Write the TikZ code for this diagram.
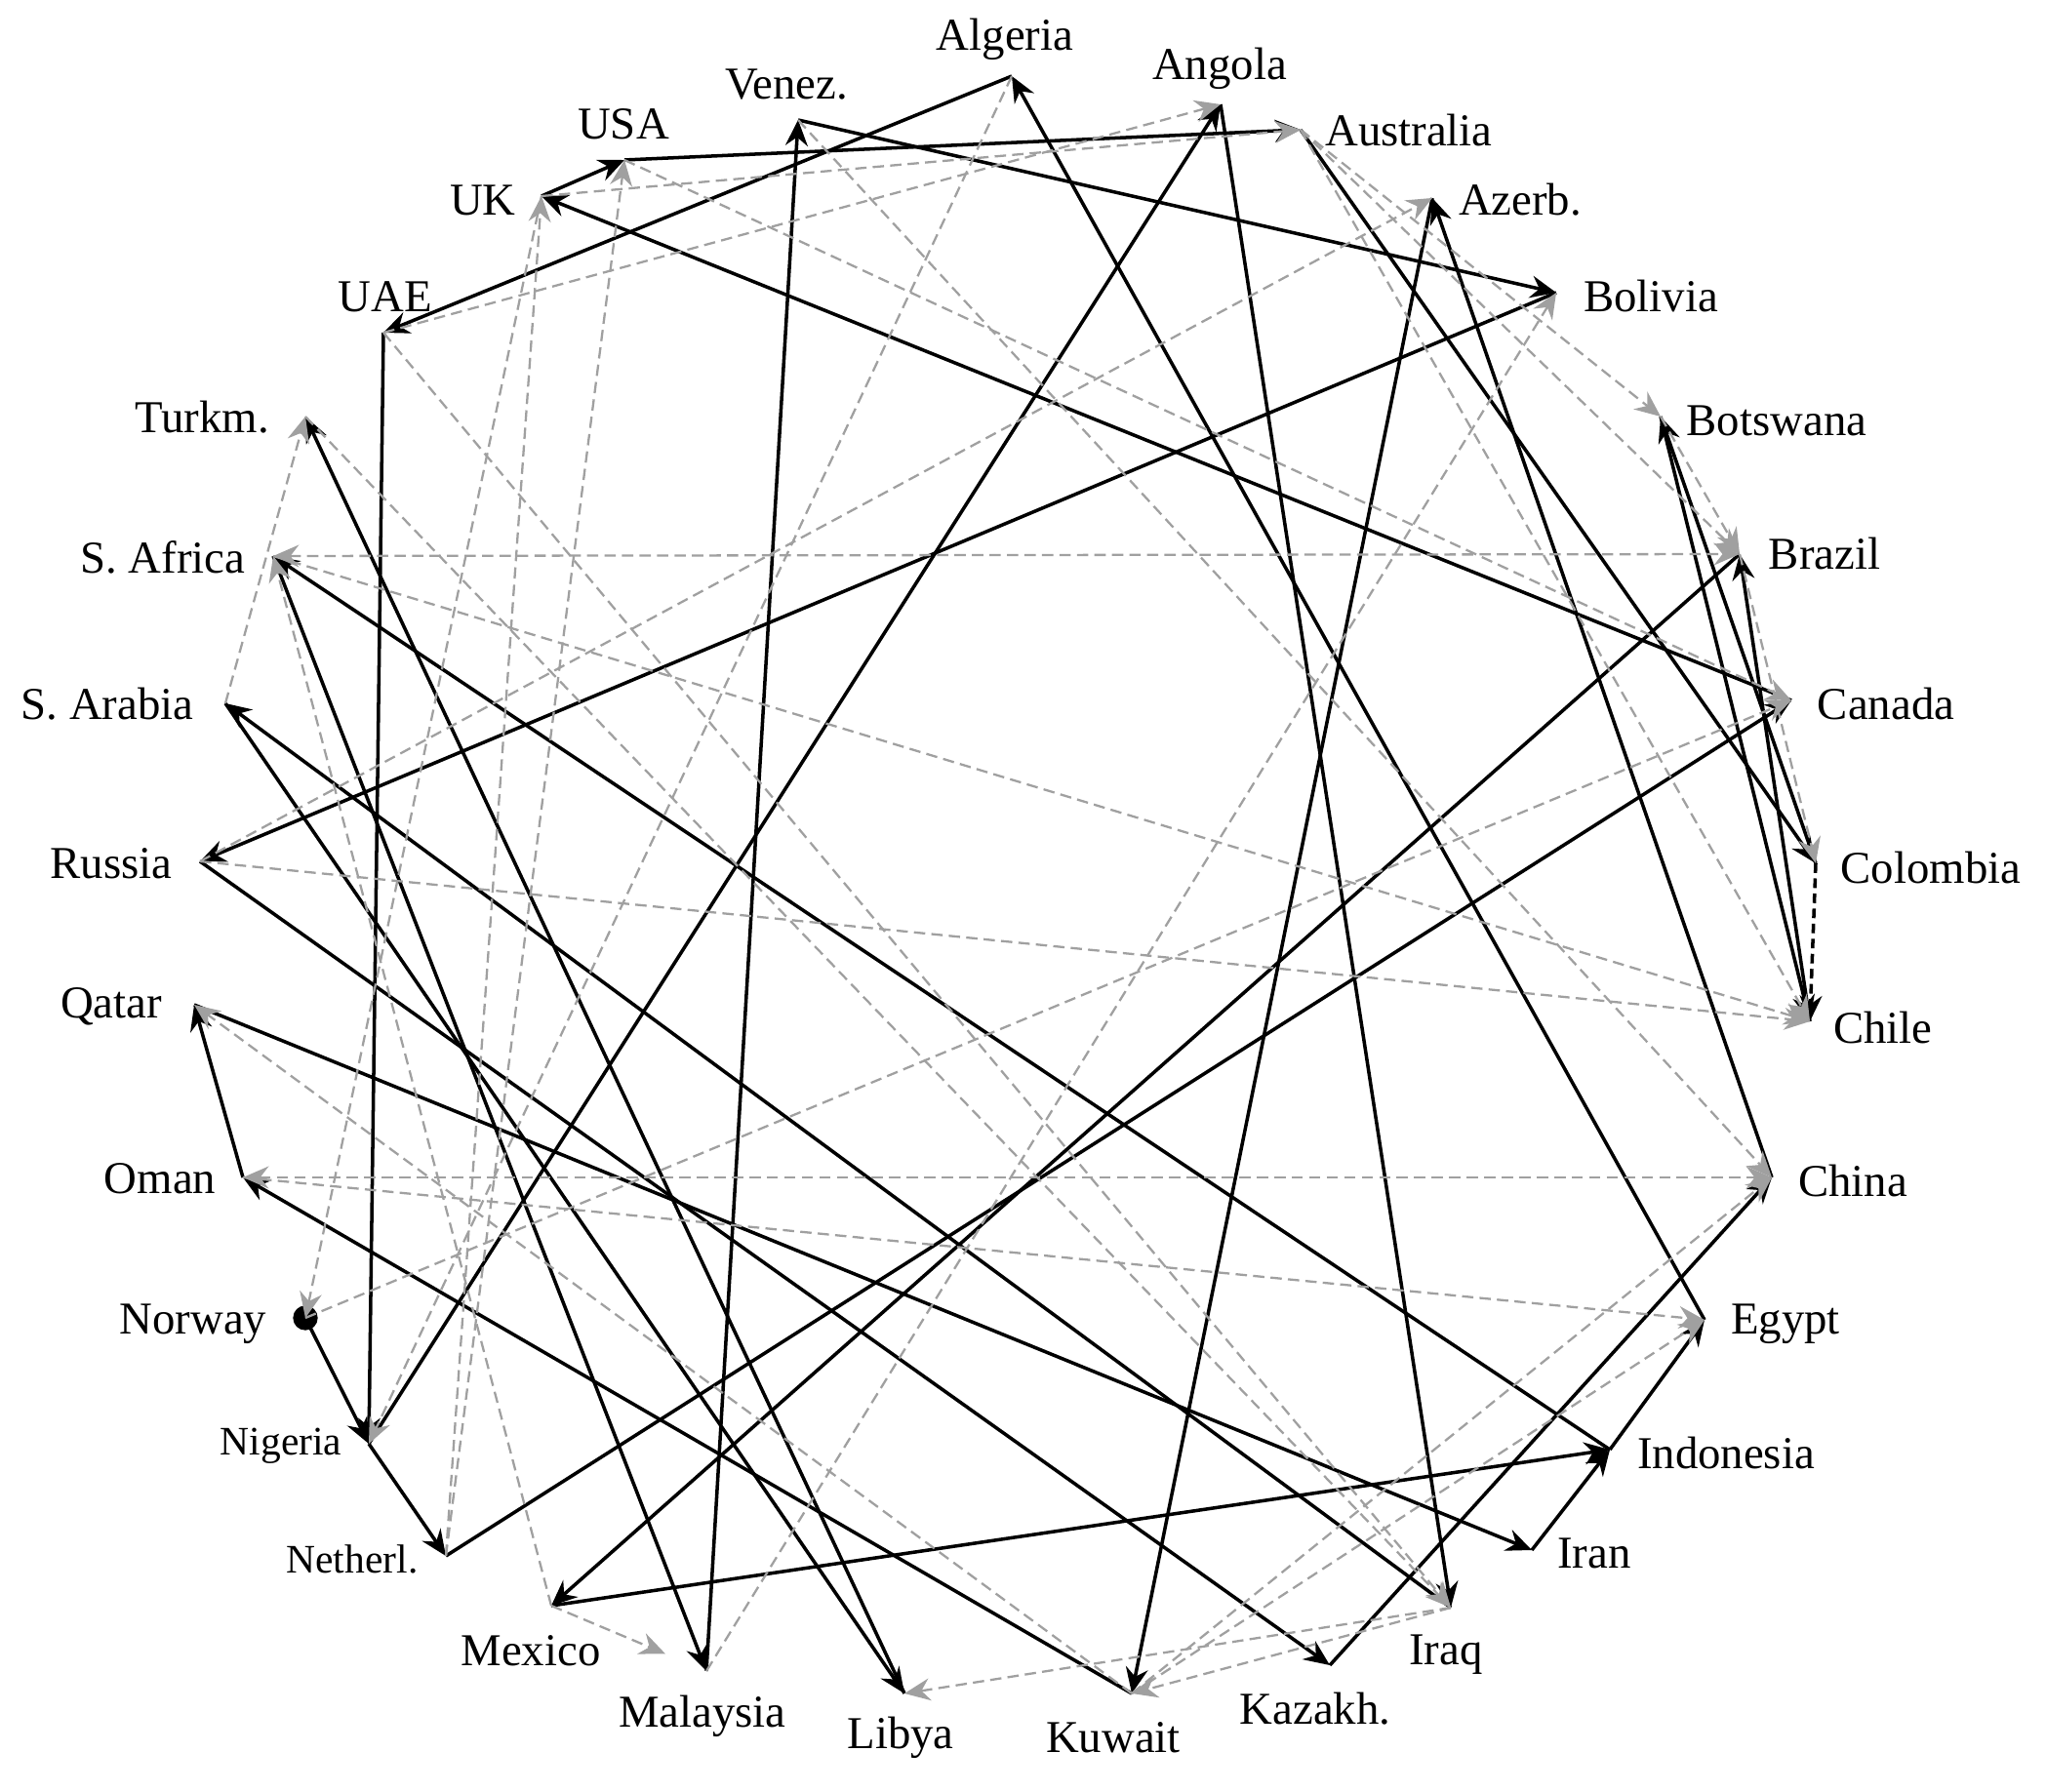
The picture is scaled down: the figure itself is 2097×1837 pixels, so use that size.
\documentclass[tikz,border=0pt]{standalone}
\usepackage{fontspec}
\setmainfont{Liberation Serif}
\usetikzlibrary{arrows.meta}
\definecolor{eg}{RGB}{160,160,160}
\tikzset{
  lab/.style={font=\fontsize{13.3pt}{15pt}\selectfont, inner sep=0pt},
  slab/.style={font=\fontsize{11.8pt}{14pt}\selectfont, inner sep=0pt},
  tip/.style={-{Stealth[length=7.5pt,width=6.5pt,inset=2.5pt]}},
  bl/.style={line width=1pt, black, tip},
  bld/.style={line width=1pt, black, dash pattern=on 2.8pt off 1.6pt, tip},
  gr/.style={line width=0.65pt, eg, dash pattern=on 3.3pt off 1.8pt, tip},
  grb/.style={line width=0.65pt, eg, dash pattern=on 3.3pt off 1.8pt,
    {Stealth[length=7.5pt,width=6.5pt,inset=2.5pt]}-{Stealth[length=7.5pt,width=6.5pt,inset=2.5pt]}},
}
\begin{document}
\begin{tikzpicture}[x=0.01cm,y=-0.01cm]
\useasboundingbox (0,0) rectangle (2097,1837);
% node points
\coordinate (alg) at (1037,78);
\coordinate (ang) at (1251,107);
\coordinate (aus) at (1333,133);
\coordinate (aze) at (1468,203);
\coordinate (bol) at (1595,300);
\coordinate (bot) at (1702,427);
\coordinate (bra) at (1783,568);
\coordinate (can) at (1836,718);
\coordinate (col) at (1861,885);
\coordinate (chl) at (1855,1047);
\coordinate (chn) at (1816,1207);
\coordinate (egy) at (1747,1353);
\coordinate (ind) at (1650,1486);
\coordinate (irn) at (1570,1589);
\coordinate (irq) at (1487,1648);
\coordinate (kaz) at (1363,1707);
\coordinate (kuw) at (1160,1736);
\coordinate (lib) at (927,1736);
\coordinate (mal) at (724,1713);
\coordinate (mex) at (565,1646);
\coordinate (net) at (457,1595);
\coordinate (nig) at (378,1480);
\coordinate (nor) at (313,1351);
\coordinate (oma) at (249,1207);
\coordinate (qat) at (199,1030);
\coordinate (rus) at (205,883);
\coordinate (sar) at (231,721);
\coordinate (saf) at (280,570);
\coordinate (tur) at (313,427);
\coordinate (uae) at (393,341);
\coordinate (uk) at (555,201);
\coordinate (usa) at (640,164);
\coordinate (ven) at (818,123);
% labels
\node[lab] (algL) at (1030,40) {Algeria};
\node[lab] (angL) at (1250,70) {Angola};
\node[lab] (ausL) at (1444,134) {Australia};
\node[lab] (azeL) at (1558,205) {Azerb.};
\node[lab] (bolL) at (1692,304) {Bolivia};
\node[lab] (botL) at (1821,431) {Botswana};
\node[lab] (braL) at (1870,568) {Brazil};
\node[lab] (canL) at (1933,722) {Canada};
\node[lab] (colL) at (1979,889) {Colombia};
\node[lab] (chlL) at (1930,1053) {Chile};
\node[lab] (chnL) at (1899,1210) {China};
\node[lab] (egyL) at (1830,1357) {Egypt};
\node[lab] (indL) at (1769,1489) {Indonesia};
\node[lab] (irnL) at (1634,1592) {Iran};
\node[lab] (irqL) at (1482,1696) {Iraq};
\node[lab] (kazL) at (1348,1752) {Kazakh.};
\node[lab] (kuwL) at (1141,1781) {Kuwait};
\node[lab] (libL) at (923,1781) {Libya};
\node[lab] (malL) at (720,1759) {Malaysia};
\node[lab] (mexL) at (544,1692) {Mexico};
\node[slab] (netL) at (361,1598) {Netherl.};
\node[slab] (nigL) at (288,1482) {Nigeria};
\node[lab] (norL) at (198,1357) {Norway};
\node[lab] (omaL) at (164,1208) {Oman};
\node[lab] (qatL) at (114,1032) {Qatar};
\node[lab] (rusL) at (114,885) {Russia};
\node[lab] (sarL) at (110,722) {S. Arabia};
\node[lab] (safL) at (167,571) {S. Africa};
\node[lab] (turL) at (207,428) {Turkm.};
\node[lab] (uaeL) at (395,304) {UAE};
\node[lab] (ukL) at (495,205) {UK};
\node[lab] (usaL) at (639,127) {USA};
\node[lab] (venL) at (806,87) {Venez.};
% black edges (route)
\fill (nor) circle[radius=3.6pt];
\draw[bl] (nor) -- (nig);
\draw[bl] (nig) -- (net);
\draw[bl] (net) -- (can);
\draw[bl] (can) -- (uk);
\draw[bl] (uk) -- (usa);
\draw[bl] (usa) -- (aus);
\draw[bl] (aus) -- (col);
\draw[bl] (col) -- (bot);
\draw[bl] (bot) -- (chl);
\draw[bl] (chl) -- (bra);
\draw[bl] (bra) -- (mex);
\draw[bl] (mex) -- (ind);
\draw[bl] (ind) -- (saf);
\draw[bl] (saf) -- (mal);
\draw[bl] (mal) -- (ven);
\draw[bl] (ven) -- (bol);
\draw[bl] (bol) -- (rus);
\draw[bl] (rus) -- (kaz);
\draw[bl] (kaz) -- (chn);
\draw[bl] (chn) -- (aze);
\draw[bl] (aze) -- (kuw);
\draw[bl] (kuw) -- (oma);
\draw[bl] (oma) -- (qat);
\draw[bl] (qat) -- (irn);
\draw[bl] (irn) -- (ind);
\draw[bl] (ind) -- (egy);
\draw[bl] (egy) -- (alg);
\draw[bl] (alg) -- (uae);
\draw[bl] (uae) -- (nig);
\draw[bl] (nig) -- (ang);
\draw[bl] (ang) -- (irq);
\draw[bl] (irq) -- (sar);
\draw[bl] (sar) -- (lib);
\draw[bl] (lib) -- (tur);
\draw[bld] (col) -- (chl);
% gray dashed edges
\draw[gr] (uae) -- (ang);
\draw[gr] (uae) -- (irq);
\draw[gr] (uk) -- (aus);
\draw[gr] (net) -- (usa);
\draw[gr] (usa) -- (can);
\draw[gr] (aus) -- (bot);
\draw[gr] (aus) -- (bra);
\draw[gr] (bot) -- (bra);
\draw[grb] (saf) -- (bra);
\draw[gr] (rus) -- (chl);
\draw[gr] (saf) -- (chl);
\draw[gr] (ven) -- (chn);
\draw[grb] (oma) -- (chn);
\draw[gr] (rus) -- (aze);
\draw[gr] (sar) -- (tur);
\draw[gr] (uk) -- (nor);
\draw[gr] (nor) -- (can);
\draw[gr] (mex) -- (saf);
\draw[gr,shorten >=13pt] (mex) -- (mal);
\draw[gr] (alg) -- (nig);
\draw[gr] (mal) -- (bol);
\draw[gr] (net) -- (uk);
\draw[gr] (tur) -- (irq);
\draw[gr] (irq) -- (kuw);
\draw[gr] (irq) -- (lib);
\draw[gr] (kuw) -- (chn);
\draw[gr] (kuw) -- (egy);
\draw[gr] (oma) -- (egy);
\draw[gr] (bra) -- (col);
\draw[gr] (aus) -- (chl);
\draw[gr] (kuw) -- (qat);
\end{tikzpicture}
\end{document}
